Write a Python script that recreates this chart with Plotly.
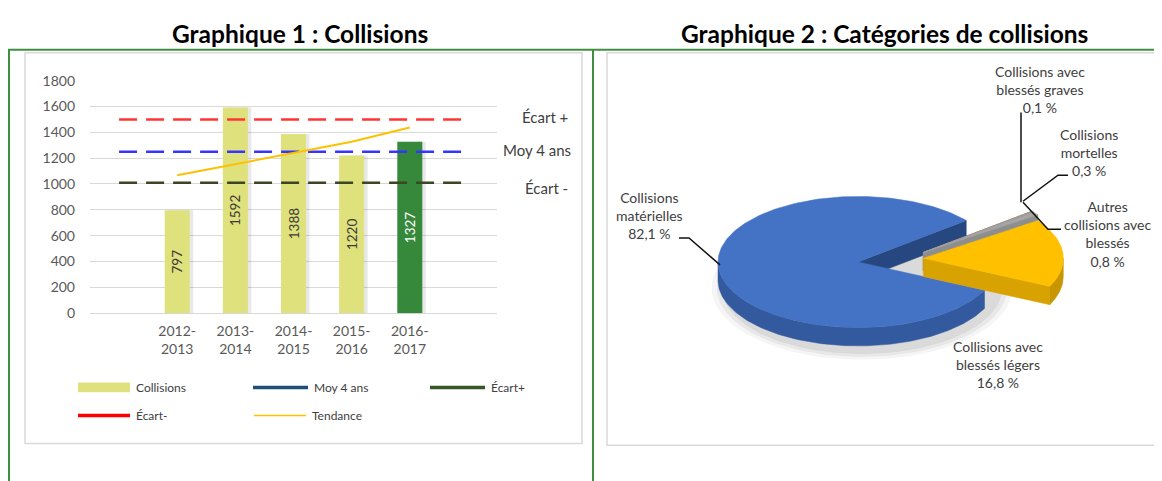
import math
import plotly.graph_objects as go

W, H = 1162, 481
OFF = 8  # the page body margin: the figure starts 8px right/down in the window

# ---------------- data ----------------
categories = ["", "2012-2013", "2013-2014", "2014-2015", "2015-2016", "2016-2017", ""]
tick_labels = ["2012-<br>2013", "2013-<br>2014", "2014-<br>2015", "2015-<br>2016", "2016-<br>2017"]
collisions = [797, 1592, 1388, 1220, 1327]
tendance = [1067, 1155, 1244, 1327, 1437]
ecart_plus = 1500
moy_4_ans = 1250
ecart_moins = 1010
y_ticks = [0, 200, 400, 600, 800, 1000, 1200, 1400, 1600, 1800]
legend_labels = ["Collisions", "Moy 4 ans", "Écart+", "Écart-", "Tendance"]

pie_labels = ["Collisions<br>matérielles",
              "Collisions avec<br>blessés légers",
              "Autres<br>collisions avec<br>blessés",
              "Collisions<br>mortelles",
              "Collisions avec<br>blessés graves"]
pie_values = [82.1, 16.8, 0.8, 0.3, 0.1]

titles = ["Graphique 1 : Collisions", "Graphique 2 : Catégories de collisions"]

# ---------------- helpers ----------------
FONT = "Lato"
TXT = "#404040"
GREEN = "#3f8f3f"


def px(x):
    return (x - OFF) / W


def py(y):
    return 1 - (y - OFF) / H


fig = go.Figure()

# ---------------- left chart ----------------
bar_x = [i for i, c in enumerate(categories) if c]
x_first, x_last = 0, len(categories) - 1
bar_colors = ["#dfe17c"] * (len(collisions) - 1) + ["#36883a"]
text_colors = ["#3a3a3a"] * (len(collisions) - 1) + ["#ffffff"]
BW = 0.43

fig.add_trace(go.Bar(x=bar_x, y=collisions, width=BW, offset=-BW / 2 + 0.06,
                     marker=dict(color="rgba(0,0,0,0.09)", line_width=0),
                     hoverinfo="skip", showlegend=False))
fig.add_trace(go.Bar(x=bar_x, y=collisions, width=BW, offset=-BW / 2,
                     marker=dict(color=bar_colors, line_width=0),
                     text=[str(v) for v in collisions], textposition="inside",
                     insidetextanchor="middle", textangle=-90,
                     textfont=dict(family=FONT, size=13.5, color=text_colors),
                     showlegend=False))

dash = "18px,9px"
fig.add_trace(go.Scatter(x=[x_first, x_last], y=[ecart_plus, ecart_plus], mode="lines",
                         line=dict(color="#ff3535", width=2.5, dash=dash), showlegend=False))
fig.add_trace(go.Scatter(x=[x_first, x_last], y=[moy_4_ans, moy_4_ans], mode="lines",
                         line=dict(color="#3535ff", width=2.5, dash=dash), showlegend=False))
fig.add_trace(go.Scatter(x=[x_first, x_last], y=[ecart_moins, ecart_moins], mode="lines",
                         line=dict(color="#3d4622", width=2.5, dash=dash), showlegend=False))
fig.add_trace(go.Scatter(x=bar_x, y=tendance, mode="lines",
                         line=dict(color="#ffc000", width=2), showlegend=False))

annotations = []
shapes = []

for val, lab, xc, ys in [(ecart_plus, "Écart +", 545, 2), (moy_4_ans, "Moy 4 ans", 537, 2),
                         (ecart_moins, "Écart -", 546, -5)]:
    annotations.append(dict(x=px(xc), y=val, xref="paper", yref="y", text=lab, showarrow=False,
                            xanchor="center", yanchor="middle", yshift=ys,
                            font=dict(family=FONT, size=15, color=TXT)))

leg = [
    (78, 130, 392, "rect", "#dfe17c", 0),
    (253, 308, 392, "line", "#1f4e79", 3.5),
    (430, 485, 392, "line", "#375623", 3.5),
    (78, 130, 421, "line", "#ff0000", 3.5),
    (254, 306, 421, "line", "#ffc000", 1.5),
]
for (x0, x1, yc, kind, col, lw), lab in zip(leg, legend_labels):
    if kind == "rect":
        shapes.append(dict(type="rect", xref="paper", yref="paper", x0=px(x0), x1=px(x1),
                           y0=py(yc + 5), y1=py(yc - 5), fillcolor=col, line_width=0))
    else:
        shapes.append(dict(type="line", xref="paper", yref="paper", x0=px(x0), x1=px(x1),
                           y0=py(yc), y1=py(yc), line=dict(color=col, width=lw)))
    annotations.append(dict(x=px(x1 + 4), y=py(yc), xref="paper", yref="paper", text=lab,
                            showarrow=False, xanchor="left", yanchor="middle",
                            font=dict(family=FONT, size=12, color=TXT)))

# ---------------- right chart: 3D-style pie ----------------
CX, CY = 858, 262
RX, RY = 140, 68
DEPTH = 19
EXPLODE = 0.47
GAP_MID = 7.0
THIN_LIFT = 6

total = sum(pie_values)
gap = 360 * (total - pie_values[0]) / total
start = GAP_MID + gap / 2

angles = []
a = start
for v in pie_values:
    span = 360 * v / total
    angles.append((a, a + span))
    a += span

grp_mid = math.radians((angles[1][0] + angles[-1][1]) / 2)
ex_dx = EXPLODE * RX * math.cos(grp_mid)
ex_dy = -EXPLODE * RY * math.sin(grp_mid)

slice_cols = [
    ("#4472c4", "#33599e", "#274781"),
    ("#ffc000", "#c89600", "#d8a300"),
    ("#a5a5a5", "#7f7f7f", "#8e8e8e"),
    ("#9a9a9a", "#7a7a7a", "#868686"),
    ("#b08a6a", "#8c6a50", "#9a7a60"),
]


def pt(cx, cy, deg, dz=0):
    r = math.radians(deg)
    return cx + RX * math.cos(r), cy - RY * math.sin(r) + dz


def arc(cx, cy, a0, a1, dz=0):
    n = max(2, int(abs(a1 - a0) / 1.0) + 2)
    return [pt(cx, cy, a0 + (a1 - a0) * k / (n - 1), dz) for k in range(n)]


def poly(points, color):
    xs = [p[0] for p in points] + [points[0][0]]
    ys = [p[1] for p in points] + [points[0][1]]
    fig.add_trace(go.Scatter(x=xs, y=ys, mode="lines", fill="toself", fillcolor=color,
                             line=dict(color=color, width=0.5), hoverinfo="skip",
                             showlegend=False, xaxis="x2", yaxis="y2"))


for k, alpha in [(10, 0.04), (5, 0.05), (0, 0.06)]:
    pts = [(CX + 4 + (RX + k) * math.cos(math.radians(t)),
            CY + DEPTH + 8 - (RY + k * 0.6) * math.sin(math.radians(t))) for t in range(0, 361, 3)]
    poly(pts, f"rgba(0,0,0,{alpha})")


def draw_slice(i, cx, cy):
    a0, a1 = angles[i]
    top, side, rad = slice_cols[i]
    if math.cos(math.radians(a0)) > 0:
        p, q = pt(cx, cy, a0), pt(cx, cy, a0, DEPTH)
        poly([(cx, cy), p, q, (cx, cy + DEPTH)], rad)
    if math.cos(math.radians(a1)) < 0:
        p, q = pt(cx, cy, a1), pt(cx, cy, a1, DEPTH)
        poly([(cx, cy), p, q, (cx, cy + DEPTH)], rad)
    for k in (-1, 0, 1):
        lo, hi = max(a0, 180 + 360 * k), min(a1, 360 + 360 * k)
        if hi > lo:
            up = arc(cx, cy, lo, hi)
            dn = arc(cx, cy, hi, lo, DEPTH)
            poly(up + dn, side)
    poly([(cx, cy)] + arc(cx, cy, a0, a1), top)


draw_slice(0, CX, CY)
for i in range(len(pie_values) - 1, 0, -1):
    lift = THIN_LIFT if i >= 2 else 0
    draw_slice(i, CX + ex_dx, CY + ex_dy - lift)


def pct(v):
    return f"{v:.1f}".replace(".", ",") + " %"


label_pos = [(650, 214), (998, 368), (1108, 233), (1089, 148), (1040, 83)]
for lab, v, (lx, ly) in zip(pie_labels, pie_values, label_pos):
    annotations.append(dict(x=lx, y=ly, xref="x2", yref="y2", text=f"{lab}<br>{pct(v)}",
                            showarrow=False, xanchor="center", yanchor="middle", align="center",
                            font=dict(family=FONT, size=14, color=TXT)))

leaders = [
    [(679, 237), (689, 237), (720, 265)],
    [(1021, 107), (1021, 200)],
    [(1068, 172), (1058, 172), (1023, 199)],
    [(1023, 200), (1048, 228), (1061, 228)],
]
for ln in leaders:
    path = "M " + " L ".join(f"{x},{y}" for x, y in ln)
    shapes.append(dict(type="path", xref="x2", yref="y2", path=path,
                       line=dict(color="#111111", width=1.5)))

# ---------------- frames & titles ----------------
shapes += [
    dict(type="rect", xref="paper", yref="paper", x0=px(25), x1=px(582), y0=py(450), y1=py(45),
         line=dict(color="#d9d9d9", width=1.5), layer="below"),
    dict(type="rect", xref="paper", yref="paper", x0=px(607), x1=px(1175), y0=py(452), y1=py(45),
         line=dict(color="#d9d9d9", width=1.5), layer="below"),
    dict(type="line", xref="paper", yref="paper", x0=px(8), x1=1, y0=py(42), y1=py(42),
         line=dict(color=GREEN, width=2)),
    dict(type="line", xref="paper", yref="paper", x0=px(9), x1=px(9), y0=py(42), y1=0,
         line=dict(color=GREEN, width=2)),
    dict(type="line", xref="paper", yref="paper", x0=px(593), x1=px(593), y0=py(42), y1=0,
         line=dict(color=GREEN, width=2)),
]
for t, xc in zip(titles, [300, 884]):
    annotations.append(dict(x=px(xc), y=py(25), xref="paper", yref="paper", text=f"<b>{t}</b>",
                            showarrow=False, xanchor="center", yanchor="middle",
                            font=dict(family=FONT, size=24.5, color="#000000")))

tickfont = dict(family=FONT, size=14, color="#595959")
fig.update_layout(
    width=W, height=H, margin=dict(l=0, r=0, t=0, b=0),
    paper_bgcolor="white", plot_bgcolor="rgba(0,0,0,0)",
    barmode="overlay", showlegend=False,
    xaxis=dict(domain=[px(90), px(497)], range=[-0.5, len(categories) - 0.5],
               tickvals=bar_x, ticktext=tick_labels, showgrid=False, zeroline=False,
               showline=False, ticks="outside", ticklen=5, tickcolor="rgba(0,0,0,0)",
               tickfont=tickfont, fixedrange=True),
    yaxis=dict(domain=[py(315), py(74)], range=[0, 1800], tickvals=y_ticks,
               showgrid=True, gridcolor="#d9d9d9", gridwidth=1.2, zeroline=True,
               zerolinecolor="#d9d9d9", zerolinewidth=1.2, showline=False,
               tickfont=tickfont, ticklabelstandoff=14, fixedrange=True),
    xaxis2=dict(domain=[px(593), 1], range=[593, W + OFF], visible=False, fixedrange=True),
    yaxis2=dict(domain=[0, 1], range=[H + OFF, OFF], visible=False, fixedrange=True),
    shapes=shapes, annotations=annotations,
)

fig.write_html("out.html", config={"displayModeBar": False})
